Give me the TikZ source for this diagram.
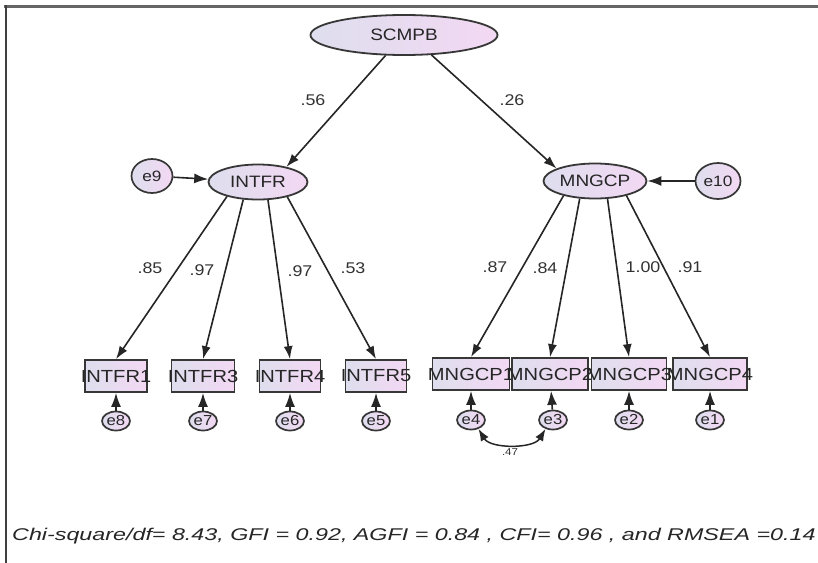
\documentclass[tikz,border=0pt]{standalone}
\usepackage{fontspec}
\setmainfont{Liberation Sans}[FakeStretch=1.15]
\newfontfamily\statfont{Liberation Sans}[FakeStretch=1.37]
\usetikzlibrary{arrows.meta,shapes.geometric}

\definecolor{lavL}{RGB}{222,222,238}
\definecolor{lavR}{RGB}{243,216,243}
\definecolor{rim}{RGB}{55,55,55}

% label that keeps its box at the box's own width and may run over its sides
\newcommand{\overrun}[1]{\makebox[0pt]{#1}}

\begin{document}
\begin{tikzpicture}[x=1pt,y=-1pt,
  latent/.style={ellipse, draw=rim, line width=1.8pt, left color=lavL, right color=lavR,
                 inner sep=0pt, text=black!85, font=\fontsize{16.5}{18}\selectfont},
  obs/.style={rectangle, draw=rim, line width=1.7pt, left color=lavL, right color=lavR,
              minimum height=32pt, inner sep=0pt, text=black!85, font=\fontsize{17.5}{19}\selectfont},
  err/.style={ellipse, draw=rim, line width=1.7pt, left color=lavL, right color=lavR,
              minimum width=28pt, minimum height=19pt, inner sep=0pt, text=black!85,
              font=\fontsize{14.5}{16}\selectfont},
  load/.style={draw=black!85, line width=1.6pt, -{Latex[length=13pt,width=9pt]}},
  errarr/.style={draw=black!85, line width=1.6pt, -{Latex[length=14pt,width=10pt]}},
  covar/.style={draw=black!85, line width=1.5pt, {Latex[length=12pt,width=9pt]}-{Latex[length=12pt,width=9pt]}},
  coef/.style={text=black!80, font=\fontsize{15.5}{17}\selectfont, inner sep=0pt},
  frameline/.style={line cap=rect},
]
\useasboundingbox (0,0) rectangle (818,562);
\fill[white] (0,0) rectangle (818,562);

% cropped frame
\draw[frameline, line width=3pt, black!60] (5,6) -- (818,6);
\draw[frameline, line width=1.5pt, black!75] (6,6) -- (6,562);

% latent variables
\node[latent, minimum width=187pt, minimum height=40pt] (SCMPB) at (404,35) {SCMPB};
\node[latent, minimum width=99pt,  minimum height=35pt] (INTFR) at (258,182) {INTFR};
\node[latent, minimum width=103pt, minimum height=35pt] (MNGCP) at (595,181) {MNGCP};

% disturbances
\node[err, minimum width=41pt, minimum height=34pt, font=\fontsize{15}{17}\selectfont] (e9) at (152,176) {e9};
\node[err, minimum width=45pt, minimum height=36pt, font=\fontsize{15}{17}\selectfont] (e10) at (718,181) {e10};

% indicators
\node[obs, minimum width=62pt] (INTFR1) at (116,376) {\overrun{INTFR1}};
\node[obs, minimum width=63pt] (INTFR3) at (203,376) {\overrun{INTFR3}};
\node[obs, minimum width=61pt] (INTFR4) at (290,376) {\overrun{INTFR4}};
\node[obs, minimum width=61pt] (INTFR5) at (376,376) {\overrun{INTFR5}};
\node[obs, minimum width=77pt] (MNGCP1) at (471,374) {\overrun{MNGCP1}};
\node[obs, minimum width=76pt] (MNGCP2) at (550,374) {\overrun{MNGCP2}};
\node[obs, minimum width=75pt] (MNGCP3) at (629,374) {\overrun{MNGCP3}};
\node[obs, minimum width=74pt] (MNGCP4) at (710,374) {\overrun{MNGCP4}};

% measurement errors
\node[err] (e8) at (116,421) {e8};
\node[err] (e7) at (203,421) {e7};
\node[err] (e6) at (290,421) {e6};
\node[err] (e5) at (376,421) {e5};
\node[err] (e4) at (471,420) {e4};
\node[err] (e3) at (553,420) {e3};
\node[err] (e2) at (629,420) {e2};
\node[err] (e1) at (710,420) {e1};

% structural paths
\draw[load] (SCMPB.-132) -- (INTFR.28);
\draw[load] (SCMPB.-36) -- (MNGCP.162);

% loadings
\draw[load] (INTFR.-155) -- (INTFR1.north);
\draw[load] (INTFR.-130) -- (INTFR3.north);
\draw[load] (INTFR.-61)  -- (INTFR4.north);
\draw[load] (INTFR.-27)  -- (INTFR5.north);
\draw[load] (MNGCP.-155) -- (MNGCP1.north);
\draw[load] (MNGCP.-131) -- (MNGCP2.north);
\draw[load] (MNGCP.-55)  -- (MNGCP3.north);
\draw[load] (MNGCP.-25)  -- (MNGCP4.north);

% error terms
\draw[errarr] (e9) -- (INTFR);
\draw[errarr] (e10) -- (MNGCP);
\draw[errarr] (e8) -- (INTFR1);
\draw[errarr] (e7) -- (INTFR3);
\draw[errarr] (e6) -- (INTFR4);
\draw[errarr] (e5) -- (INTFR5);
\draw[errarr] (e4) -- (MNGCP1);
\draw[errarr] (e3) -- (MNGCP2);
\draw[errarr] (e2) -- (MNGCP3);
\draw[errarr] (e1) -- (MNGCP4);

% error covariance
\draw[covar] (e4.-50) .. controls +(12,20) and +(-12,20) .. (e3.-130);
\node[coef, font=\fontsize{10}{12}\selectfont] (c47) at (510,452) {.47};

% coefficients
\node[coef] (c56) at (313,100) {.56};
\node[coef] (c26) at (512,100) {.26};
\node[coef] (c85) at (150,268) {.85};
\node[coef] (c97a) at (202,270) {.97};
\node[coef] (c97b) at (300,271) {.97};
\node[coef] (c53) at (353,268) {.53};
\node[coef] (c87) at (495,267) {.87};
\node[coef] (c84) at (545,268) {.84};
\node[coef] (c100) at (643,267) {1.00};
\node[coef] (c91) at (690,267) {.91};

% fit indices
\node[anchor=west, inner sep=0pt, text=black!85, font=\statfont\itshape\fontsize{17}{20}\selectfont] (fit) at (12,536)
  {Chi-square/df= 8.43, GFI = 0.92, AGFI = 0.84 , CFI= 0.96 , and RMSEA =0.14};
\end{tikzpicture}
\end{document}
